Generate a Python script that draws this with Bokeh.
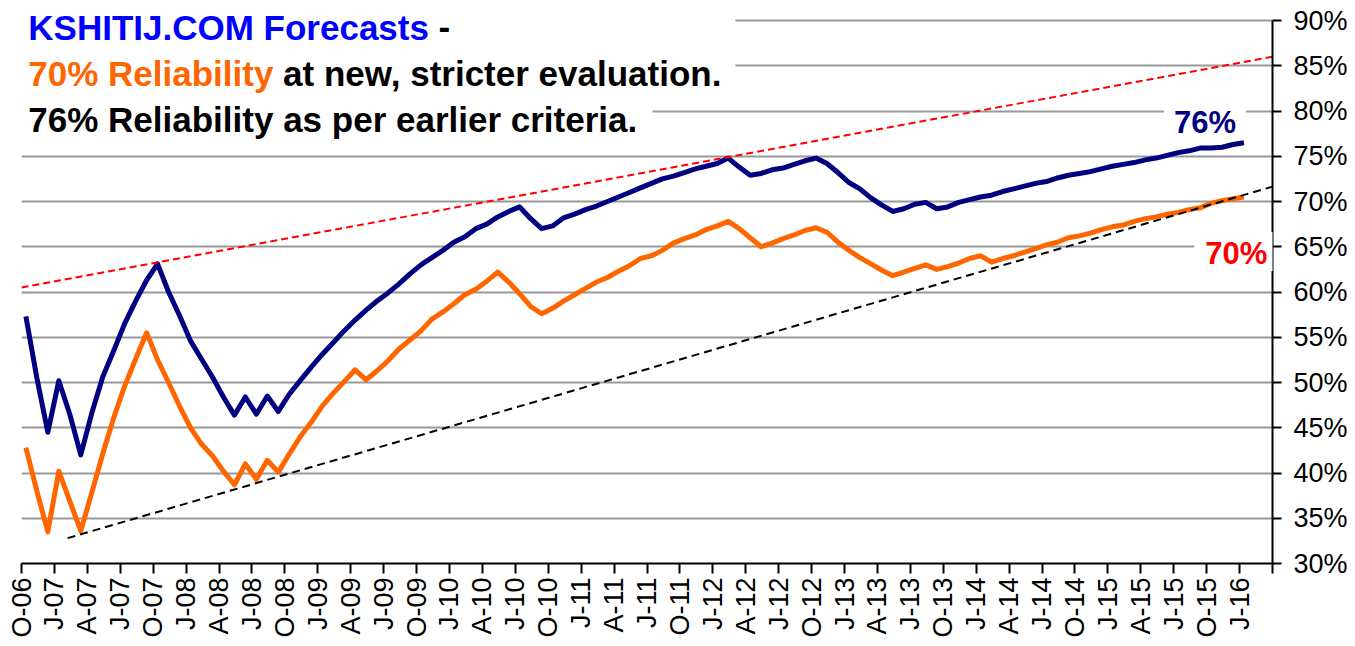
import math
from bokeh.plotting import figure
from bokeh.models import Range1d, FixedTicker, PrintfTickFormatter, Label, BoxAnnotation, Arrow
from bokeh.embed import file_html
from bokeh.resources import INLINE

# ---------------- data ----------------
tick_labels = ["O-06", "J-07", "A-07", "J-07", "O-07", "J-08", "A-08", "J-08", "O-08",
               "J-09", "A-09", "J-09", "O-09", "J-10", "A-10", "J-10", "O-10",
               "J-11", "A-11", "J-11", "O-11", "J-12", "A-12", "J-12", "O-12",
               "J-13", "A-13", "J-13", "O-13", "J-14", "A-14", "J-14", "O-14",
               "J-15", "A-15", "J-15", "O-15", "J-16"]

# monthly reliability (%), Oct-2006 .. Jan-2016
earlier_criteria = [57.3, 50.5, 44.5, 50.2, 46.5, 42.0, 46.6, 50.6, 53.5, 56.5, 59.0, 61.3,
                    63.1, 60.0, 57.4, 54.6, 52.6, 50.6, 48.4, 46.4, 48.4, 46.5, 48.5, 46.8,
                    48.7, 50.2, 51.7, 53.1, 54.4, 55.7, 56.9, 58.0, 59.0, 59.9, 60.9, 62.0,
                    63.0, 63.8, 64.6, 65.5, 66.1, 67.0, 67.5, 68.3, 68.9, 69.4, 68.1, 67.0,
                    67.3, 68.2, 68.6, 69.1, 69.5, 70.0, 70.5, 71.0, 71.5, 72.0, 72.5, 72.8,
                    73.2, 73.6, 73.9, 74.2, 74.8, 73.8, 72.9, 73.1, 73.5, 73.7, 74.1, 74.5,
                    74.8, 74.2, 73.2, 72.1, 71.4, 70.4, 69.6, 68.9, 69.2, 69.7, 69.9, 69.2,
                    69.4, 69.9, 70.2, 70.5, 70.7, 71.1, 71.4, 71.7, 72.0, 72.2, 72.6, 72.9,
                    73.1, 73.3, 73.6, 73.9, 74.1, 74.3, 74.6, 74.8, 75.1, 75.4, 75.6, 75.9,
                    75.9, 76.0, 76.3, 76.5]

stricter = [42.8, 38.0, 33.5, 40.2, 36.9, 33.6, 37.8, 42.1, 46.1, 49.6, 52.6, 55.5,
            52.5, 50.0, 47.4, 45.0, 43.2, 41.9, 40.2, 38.7, 41.0, 39.3, 41.4, 40.1,
            42.1, 44.0, 45.6, 47.4, 48.8, 50.1, 51.4, 50.3, 51.3, 52.4, 53.7, 54.7,
            55.7, 57.0, 57.8, 58.7, 59.7, 60.3, 61.2, 62.2, 61.1, 59.8, 58.4, 57.6,
            58.2, 59.0, 59.7, 60.4, 61.1, 61.6, 62.3, 62.9, 63.7, 64.0, 64.6, 65.4,
            65.9, 66.3, 66.9, 67.3, 67.8, 67.0, 66.0, 65.0, 65.4, 65.9, 66.3, 66.8,
            67.1, 66.6, 65.5, 64.6, 63.8, 63.1, 62.4, 61.8, 62.2, 62.6, 63.0, 62.5,
            62.8, 63.2, 63.7, 64.0, 63.3, 63.7, 64.0, 64.4, 64.8, 65.2, 65.5, 66.0,
            66.2, 66.5, 66.9, 67.2, 67.4, 67.8, 68.1, 68.3, 68.6, 68.8, 69.1, 69.3,
            69.8, 70.1, 70.3, 70.5]

# trend lines (month index, %)
upper_trend_x = [0.0, 114.0]
upper_trend_y = [60.5, 86.0]
lower_trend_x = [4.2, 116.7]
lower_trend_y = [32.8, 72.6]

# ---------------- figure ----------------
months = [i + 0.4 for i in range(len(stricter))]
tick_pos = [3 * i for i in range(len(tick_labels))] + [3 * len(tick_labels)]
overrides = {t: lab for t, lab in zip(tick_pos, tick_labels)}
overrides[tick_pos[-1]] = ""

FONT = "Liberation Sans"
# frame extends 20px above the 90% line so the title is not clipped
p = figure(frame_width=1251, frame_height=563, output_backend="svg", toolbar_location=None,
           x_range=Range1d(0, 114), y_range=Range1d(30, 92.21), y_axis_location="right",
           min_border_left=21, min_border_top=0, min_border_right=0, min_border_bottom=0)
p.outline_line_color = None
p.background_fill_color = "white"
p.border_fill_color = "white"

xa = p.xaxis[0]
xa.ticker = FixedTicker(ticks=tick_pos)
xa.major_label_overrides = overrides
xa.major_label_orientation = math.pi / 2
xa.minor_tick_line_color = None
xa.major_tick_in = 0
xa.major_tick_out = 10
xa.major_tick_line_width = 2
xa.major_tick_line_color = "black"
xa.axis_line_width = 2
xa.axis_line_color = "black"
xa.major_label_text_font = FONT
xa.major_label_text_font_size = "27px"
xa.major_label_text_color = "black"
xa.major_label_standoff = 4

ya = p.yaxis[0]
ya.ticker = FixedTicker(ticks=list(range(30, 95, 5)))
ya.formatter = PrintfTickFormatter(format="%d%%")
ya.bounds = (30, 90)
ya.minor_tick_line_color = None
ya.major_tick_in = 0
ya.major_tick_out = 9
ya.major_tick_line_width = 2
ya.major_tick_line_color = "black"
ya.axis_line_width = 2
ya.axis_line_color = "black"
ya.major_label_text_font = FONT
ya.major_label_text_font_size = "27px"
ya.major_label_text_color = "black"
ya.major_label_standoff = 12

p.xgrid.grid_line_color = None
p.ygrid.ticker = FixedTicker(ticks=list(range(35, 95, 5)))
p.ygrid.grid_line_color = "#999999"
p.ygrid.grid_line_width = 2

LIFT = 12.5  # px, baseline correction for labels

# label "76%" sits under the data lines, over the grid
p.add_layout(Label(x=107.86, y=77.5, y_offset=LIFT, text="76%", text_font=FONT,
                   text_font_size="31px", text_font_style="bold", text_color="#000080",
                   text_align="center", text_baseline="alphabetic",
                   background_fill_color="white", background_fill_alpha=1,
                   padding=dict(left=10, right=10, top=2, bottom=0), level="underlay"))

# series
p.line(months, earlier_criteria, line_color="#000080", line_width=5, line_join="round")
p.line(months, stricter, line_color="#FF6600", line_width=5, line_join="round")

# trend lines
p.line(upper_trend_x, upper_trend_y, line_color="#FF0000", line_width=2, line_dash="7 4")
p.add_layout(Arrow(end=None, x_start=lower_trend_x[0], y_start=lower_trend_y[0],
                   x_end=lower_trend_x[1], y_end=lower_trend_y[1],
                   line_color="black", line_width=2, line_dash="8 5"))

# title background boxes
p.add_layout(BoxAnnotation(right=65.05, bottom=81.7, fill_color="white", fill_alpha=1,
                           line_color=None))
p.add_layout(BoxAnnotation(right=57.5, top=81.7, bottom=77.0, fill_color="white", fill_alpha=1,
                           line_color=None))

# title text
TX = 0.62
SPACE = 9.7
def seg(text, y, color, xoff=0):
    p.add_layout(Label(x=TX, y=y, x_offset=xoff, y_offset=LIFT, text=text, text_font=FONT,
                       text_font_size="35px", text_font_style="bold", text_color=color,
                       text_baseline="alphabetic", text_align="left"))

seg("KSHITIJ.COM Forecasts", 87.87, "#0000FF")
seg("-", 87.87, "black", 400.6 + SPACE)
seg("70% Reliability", 82.81, "#FF6600")
seg("at new, stricter evaluation.", 82.81, "black", 245.1 + SPACE)
seg("76% Reliability as per earlier criteria.", 77.72, "black")

# end label "70%" covers the axis line
p.add_layout(Label(x=110.7, y=63.1, y_offset=LIFT, text="70%", text_font=FONT,
                   text_font_size="31px", text_font_style="bold", text_color="#FF0000",
                   text_align="center", text_baseline="alphabetic",
                   background_fill_color="white", background_fill_alpha=1,
                   padding=dict(left=11, right=11, top=4, bottom=0)))

open("out.html", "w").write(file_html(p, INLINE))
